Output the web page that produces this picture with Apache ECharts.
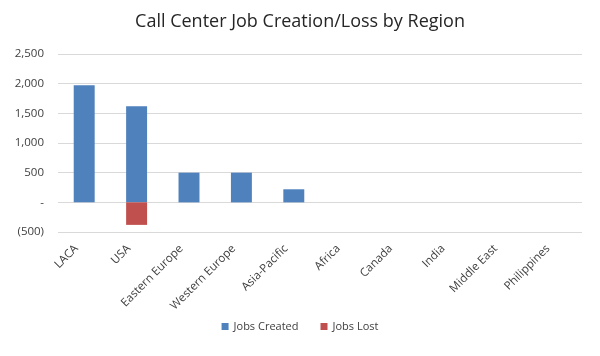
<!DOCTYPE html>
<html><head><meta charset="utf-8">
<script src="https://cdn.jsdelivr.net/npm/echarts@6/dist/echarts.min.js"></script>
<style>html,body{margin:0;padding:0;background:#fff}#c{width:600px;height:356px}</style>
</head><body><div id="c"></div>
<script>
const categories = ["LACA","USA","Eastern Europe","Western Europe","Asia-Pacific","Africa","Canada","India","Middle East","Philippines"];
const jobsCreated = [1975,1620,500,500,220,0,0,0,0,0];
const jobsLost = [0,-380,0,0,0,0,0,0,0,0];
const yTicks = {min:-500, max:2500, interval:500};

function fmt(v){
  if (v === 0) return "-";
  const s = Math.abs(v).toLocaleString("en-US");
  return v < 0 ? "(" + s + ")" : s;
}
const font = "'Open Sans', 'Liberation Sans', sans-serif";
const chart = echarts.init(document.getElementById('c'), null, {renderer:'canvas'});
chart.setOption({
  animation:false,
  title:{text:"Call Center Job Creation/Loss by Region", left:'center', top:8,
    textStyle:{fontFamily:font, fontSize:18, fontWeight:'normal', color:'#262626'}},
  legend:{bottom:19, left:'center', itemWidth:7, itemHeight:7, itemGap:22, icon:'rect',
    textStyle:{fontFamily:font, fontSize:11, color:'#404040'}},
  grid:{left:58, right:18, top:54, bottom:124},
  xAxis:{type:'category', data:categories,
    axisLine:{show:false}, axisTick:{show:false},
    axisLabel:{rotate:45, interval:0, fontFamily:font, fontSize:11.5, color:'#404040', margin:7,
      padding:[0,11,0,0]}},
  yAxis:{type:'value', min:yTicks.min, max:yTicks.max, interval:yTicks.interval,
    axisLine:{show:false}, axisTick:{show:false},
    splitLine:{lineStyle:{color:'#d9d9d9', width:1}},
    axisLabel:{formatter:fmt, fontFamily:font, fontSize:11.5, color:'#404040', margin:14}},
  series:[
    {name:'Jobs Created', type:'bar', stack:'a', data:jobsCreated, barWidth:'40%',
      itemStyle:{color:'#4f81bd'}},
    {name:'Jobs Lost', type:'bar', stack:'a', data:jobsLost, barWidth:'40%',
      itemStyle:{color:'#c0504d'}}
  ]
});
</script></body></html>
